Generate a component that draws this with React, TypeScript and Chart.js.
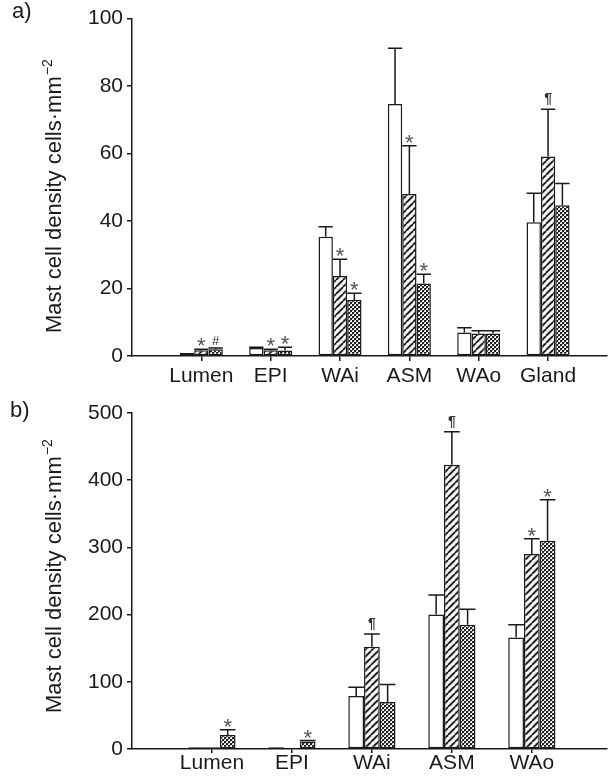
import React, { useEffect, useRef } from 'react';
import { Chart, registerables } from 'chart.js';
Chart.register(...registerables);

// ---------- Data ----------
const categoriesA = ['Lumen', 'EPI', 'WAi', 'ASM', 'WAo', 'Gland'];
const controlA = [0.9, 2.4, 35.3, 74.7, 7.0, 39.6];
const controlErrA = [0, 0.2, 3.0, 16.5, 1.4, 8.6];
const group2A = [1.7, 1.7, 23.7, 48.0, 6.7, 59.1];
const group2ErrA = [0.3, 0.3, 5.0, 14.3, 0.8, 14.0];
const group3A = [2.0, 1.6, 16.6, 21.5, 6.7, 44.7];
const group3ErrA = [0.4, 1.0, 2.0, 2.7, 0.8, 6.4];
const marksControlA = ['', '', '', '', '', ''];
const marks2A = ['*', '*', '*', '*', '', '¶'];
const marks3A = ['#', '*', '*', '*', '', ''];
const yTicksA = [0, 20, 40, 60, 80, 100];

const categoriesB = ['Lumen', 'EPI', 'WAi', 'ASM', 'WAo'];
const controlB = [2.5, 2.5, 79, 200, 166];
const controlErrB = [0, 0, 13, 29, 19];
const group2B = [2.5, 0.5, 152, 423, 290];
const group2ErrB = [0, 0, 19, 49, 23];
const group3B = [21, 11, 70, 185, 310];
const group3ErrB = [7.5, 1.5, 26, 23, 61];
const marksControlB = ['', '', '', '', ''];
const marks2B = ['', '', '¶', '¶', '*'];
const marks3B = ['*', '*', '', '', '*'];
const yTicksB = [0, 100, 200, 300, 400, 500];

const Y_TITLE = 'Mast cell density cells·mm';
const Y_TITLE_SUP = '−2';

const FONT = "'Liberation Sans', Arial, Helvetica, sans-serif";
const INK = '#1a1a1a';

// ---------- Patterns ----------
function makeHatch(): CanvasPattern {
  const n = 7;
  const c = document.createElement('canvas');
  c.width = n; c.height = n;
  const g = c.getContext('2d')!;
  g.fillStyle = '#fff';
  g.fillRect(0, 0, n, n);
  const diag = () => {
    g.beginPath();
    for (const o of [-n, 0, n]) { g.moveTo(o, n); g.lineTo(o + n, 0); }
    g.stroke();
  };
  g.strokeStyle = '#b0b0b0'; g.lineWidth = 3.0; diag();
  g.strokeStyle = '#000'; g.lineWidth = 1.3; diag();
  return g.createPattern(c, 'repeat')!;
}

function makeDots(): CanvasPattern {
  const n = 4;
  const c = document.createElement('canvas');
  c.width = n; c.height = n;
  const g = c.getContext('2d')!;
  g.fillStyle = '#fff';
  g.fillRect(0, 0, n, n);
  g.fillStyle = '#222';
  g.fillRect(0, 0, 2, 2);
  g.fillRect(2, 2, 2, 2);
  g.fillStyle = '#999';
  g.fillRect(2, 0, 1, 1);
  g.fillRect(0, 2, 1, 1);
  return g.createPattern(c, 'repeat')!;
}

// ---------- Plugins ----------
const errorBarPlugin = {
  id: 'errorBars',
  afterDatasetsDraw(chart: any) {
    const ctx = chart.ctx;
    const yScale = chart.scales.y;
    chart.data.datasets.forEach((ds: any, di: number) => {
      const meta = chart.getDatasetMeta(di);
      meta.data.forEach((el: any, i: number) => {
        const { x, y: top, width } = el.getProps(['x', 'y', 'width'], true);
        const v = ds.data[i].y;
        const err = ds.errors[i] || 0;
        const yTop = yScale.getPixelForValue(v + err);
        ctx.save();
        ctx.strokeStyle = INK;
        ctx.lineWidth = 1.5;
        if (err > 0) {
          ctx.beginPath();
          ctx.moveTo(x, top);
          ctx.lineTo(x, yTop);
          ctx.moveTo(x - width / 2, yTop);
          ctx.lineTo(x + width / 2, yTop);
          ctx.stroke();
        }
        const m = ds.marks[i];
        if (m) {
          if (m === '*') { ctx.font = `22px ${FONT}`; ctx.fillStyle = '#555'; }
          else if (m === '#') { ctx.font = `13px ${FONT}`; ctx.fillStyle = '#333'; }
          else { ctx.font = `bold 14px ${FONT}`; ctx.fillStyle = '#333'; }
          ctx.textAlign = 'center';
          ctx.textBaseline = 'alphabetic';
          const mt = ctx.measureText(m);
          const base = yTop - 3 - mt.actualBoundingBoxDescent;
          ctx.fillText(m, x, base);
        }
        ctx.restore();
      });
    });
  },
};

const yTitlePlugin = {
  id: 'yTitle',
  afterDraw(chart: any, _args: any, opts: any) {
    const ctx = chart.ctx;
    ctx.save();
    ctx.translate(opts.x, opts.y);
    ctx.rotate(-Math.PI / 2);
    ctx.fillStyle = INK;
    ctx.textAlign = 'left';
    ctx.textBaseline = 'alphabetic';
    ctx.font = `22px ${FONT}`;
    ctx.fillText(Y_TITLE, 0, 0);
    const w = ctx.measureText(Y_TITLE).width;
    ctx.font = `14px ${FONT}`;
    ctx.fillText(Y_TITLE_SUP, w + 1, -9);
    ctx.restore();
  },
};

// ---------- Config ----------
function buildConfig(p: {
  cats: string[]; series: number[][]; errs: number[][]; marks: string[][];
  yTicks: number[]; xMax: number; padTop: number; xHeight: number; catPct: number;
  titleX: number; titleY: number; xPad: number; xTick: number;
}) {
  const hatch = makeHatch();
  const dots = makeDots();
  const fills = ['#ffffff', hatch, dots];
  const datasets = p.series.map((vals, si) => ({
    label: `s${si}`,
    data: vals.map((v, i) => ({ x: i + 1, y: v })),
    errors: p.errs[si],
    marks: p.marks[si],
    backgroundColor: fills[si],
    borderColor: INK,
    borderWidth: 1.5,
    borderSkipped: false,
    barPercentage: 1.0,
    categoryPercentage: p.catPct,
  }));
  const yMax = p.yTicks[p.yTicks.length - 1];
  return {
    type: 'bar',
    data: { datasets },
    plugins: [errorBarPlugin, yTitlePlugin],
    options: {
      responsive: false,
      animation: false,
      devicePixelRatio: 1,
      layout: { padding: { top: p.padTop, right: 1, bottom: 0, left: 0 } },
      plugins: {
        legend: { display: false },
        tooltip: { enabled: false },
        yTitle: { x: p.titleX, y: p.titleY },
      },
      scales: {
        x: {
          type: 'linear',
          min: 0,
          max: p.xMax,
          offset: false,
          afterBuildTicks: (s: any) => { s.ticks = p.cats.map((_, i) => ({ value: i + 1 })); },
          afterFit: (s: any) => { s.height = p.xHeight; },
          ticks: {
            callback: (_v: any, idx: number) => p.cats[idx] ?? '',
            font: { family: FONT, size: 21 },
            color: INK,
            padding: p.xPad,
            maxRotation: 0,
            autoSkip: false,
          },
          grid: { display: true, offset: false, drawOnChartArea: false, drawTicks: true, tickLength: p.xTick, color: INK, lineWidth: 1.5 },
          border: { display: true, color: INK, width: 1.5 },
        },
        y: {
          type: 'linear',
          min: 0,
          max: yMax,
          afterBuildTicks: (s: any) => { s.ticks = p.yTicks.map((v) => ({ value: v })); },
          afterFit: (s: any) => { s.width = 132; },
          ticks: {
            font: { family: FONT, size: 21 },
            color: INK,
            padding: 4,
          },
          grid: { display: true, drawOnChartArea: false, drawTicks: true, tickLength: 5, color: INK, lineWidth: 1.5 },
          border: { display: true, color: INK, width: 1.5 },
        },
      },
    },
  } as any;
}

function Panel(props: { top: number; height: number; cfg: () => any }) {
  const ref = useRef<HTMLCanvasElement>(null);
  useEffect(() => {
    const chart = new Chart(ref.current!, props.cfg());
    return () => chart.destroy();
  }, []);
  return (
    <canvas
      ref={ref}
      width={608}
      height={props.height}
      style={{ position: 'absolute', left: 0, top: props.top, width: 608, height: props.height }}
    />
  );
}

export default function App() {
  const labelStyle: React.CSSProperties = {
    position: 'absolute', fontFamily: FONT, fontSize: 22, lineHeight: '22px', color: INK,
  };
  return (
    <div style={{ position: 'absolute', left: 0, top: 0, width: 608, height: 782, background: '#fff', overflow: 'hidden' }}>
      <Panel
        top={0}
        height={385}
        cfg={() => buildConfig({
          cats: categoriesA,
          series: [controlA, group2A, group3A],
          errs: [controlErrA, group2ErrA, group3ErrA],
          marks: [marksControlA, marks2A, marks3A],
          yTicks: yTicksA,
          xMax: 6.85,
          padTop: 18.5,
          xHeight: 29,
          catPct: 0.62,
          titleX: 61,
          titleY: 333,
          xPad: 3,
          xTick: 5,
        })}
      />
      <Panel
        top={385}
        height={397}
        cfg={() => buildConfig({
          cats: categoriesB,
          series: [controlB, group2B, group3B],
          errs: [controlErrB, group2ErrB, group3ErrB],
          marks: [marksControlB, marks2B, marks3B],
          yTicks: yTicksB,
          xMax: 5.94,
          padTop: 28,
          xHeight: 33,
          catPct: 0.59,
          titleX: 61,
          titleY: 328,
          xPad: -2,
          xTick: 4,
        })}
      />
      <div style={{ ...labelStyle, left: 12, top: 0 }}>a)</div>
      <div style={{ ...labelStyle, left: 10, top: 399 }}>b)</div>
    </div>
  );
}
